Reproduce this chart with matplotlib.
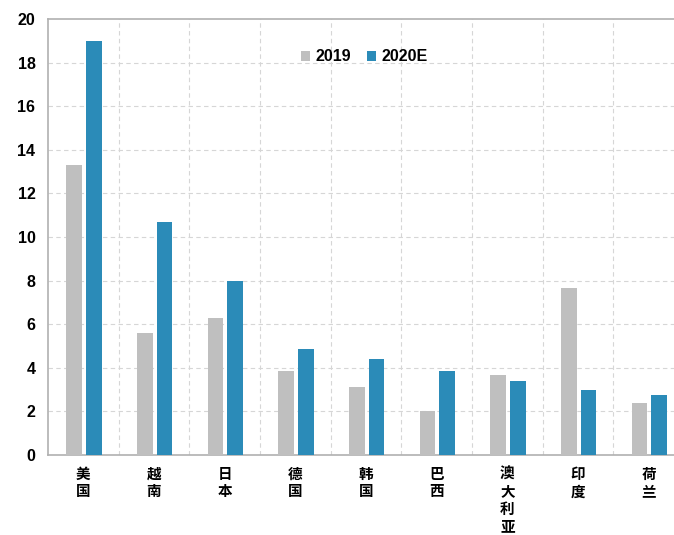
import matplotlib
matplotlib.use('Agg')
import matplotlib.pyplot as plt
import numpy as np

plt.rcParams['font.family'] = ['Liberation Sans', 'Noto Sans CJK SC', 'DejaVu Sans']

countries = ['美国', '越南', '日本', '德国', '韩国', '巴西', '澳大利亚', '印度', '荷兰']
v2019 = [13.3, 5.6, 6.3, 3.85, 3.1, 2.0, 3.65, 7.65, 2.4]
v2020 = [19.0, 10.7, 8.0, 4.85, 4.4, 3.85, 3.4, 3.0, 2.75]
series_names = ['2019', '2020E']

gray = '#bfbfbf'
blue = '#2b8bb8'

fig = plt.figure(figsize=(6.74, 5.35), dpi=100)
ax = fig.add_axes([48 / 674, 80 / 535, 636 / 674, 436 / 535])

x = np.arange(len(countries))
w = 0.22
b1 = ax.bar(x - 0.13, v2019, w, color=gray, label=series_names[0], zorder=3)
b2 = ax.bar(x + 0.15, v2020, w, color=blue, label=series_names[1], zorder=3)

ax.set_xlim(-0.5, len(countries) - 0.5)
ax.set_ylim(0, 20)
ax.set_yticks(range(0, 21, 2))
ax.set_yticklabels([str(v) for v in range(0, 21, 2)], fontsize=11.5, fontweight='bold')

ax.set_xticks(x)
ax.set_xticklabels(['\n'.join(c) for c in countries], fontsize=10.5, fontweight='bold',
                   family=['Noto Sans CJK SC'], linespacing=1.1)
ax.tick_params(axis='both', length=0)
ax.tick_params(axis='x', pad=8)
ax.tick_params(axis='y', pad=9)

# dashed grid: horizontal at ticks, vertical between categories
for yv in range(2, 20, 2):
    ax.axhline(yv, color='#d6d6d6', lw=0.8, ls=(0, (4, 3)), zorder=1)
for xv in np.arange(0.5, len(countries) - 0.5, 1):
    ax.axvline(xv, color='#d6d6d6', lw=0.8, ls=(0, (4, 3)), zorder=1)

for s in ax.spines.values():
    s.set_color('#b0b0b0')
    s.set_linewidth(1.2)

leg = fig.legend(handles=[b1, b2], loc='center', bbox_to_anchor=(364 / 674, 1 - 57 / 535),
                 ncol=2, frameon=False, handlelength=0.6, handleheight=0.6,
                 handletextpad=0.3, columnspacing=1.0,
                 prop={'size': 11.5, 'weight': 'bold'})

fig.savefig('out.png', dpi=100)
